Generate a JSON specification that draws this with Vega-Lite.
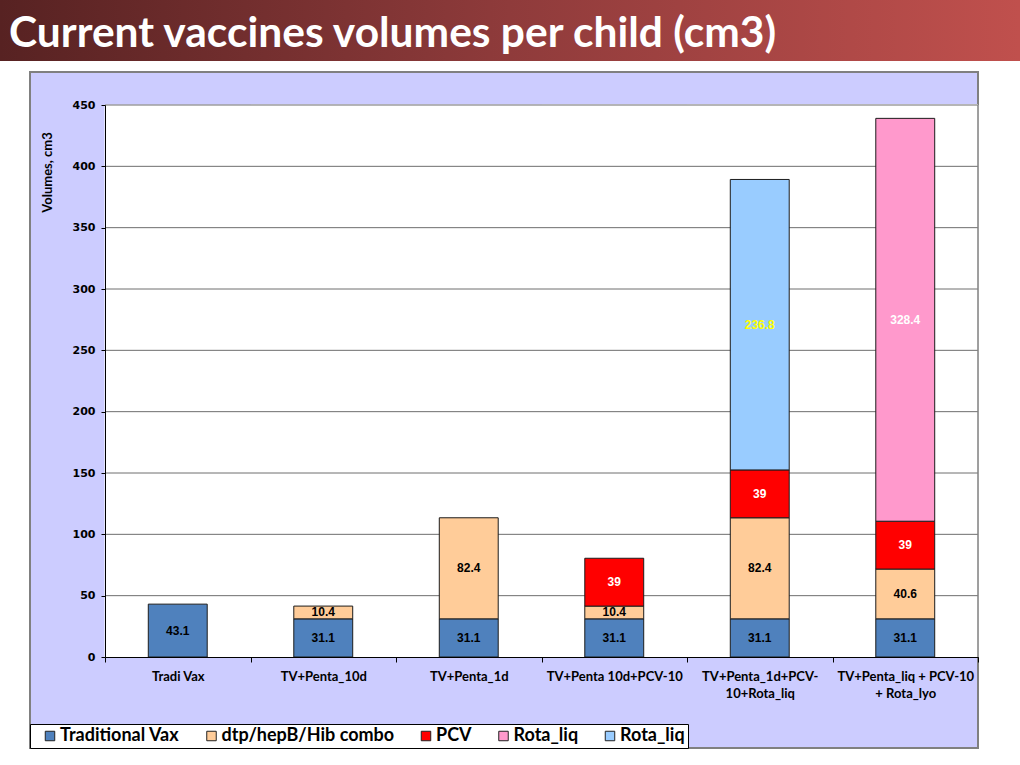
{
  "$schema": "https://vega.github.io/schema/vega-lite/v6.json",
  "width": 948,
  "height": 676,
  "padding": 0,
  "background": "white",
  "view": {"fill": "#ccccff", "stroke": "#808080", "strokeWidth": 2},
  "resolve": {"scale": {"x": "independent", "y": "independent"}},
  "layer": [
    {
      "data": {"values": [{"title": "Current vaccines volumes per child (cm3)"}]},
      "layer": [
        {
          "mark": {
            "type": "rect",
            "clip": false,
            "fill": {
              "gradient": "linear",
              "x1": 0, "y1": 0, "x2": 1, "y2": 0,
              "stops": [
                {"offset": 0, "color": "#572222"},
                {"offset": 0.5, "color": "#8f3b3b"},
                {"offset": 1, "color": "#c0504d"}
              ]
            }
          },
          "encoding": {
            "x": {"datum": 0, "type": "quantitative", "scale": {"domain": [0, 1], "range": [-30, 990], "nice": false, "zero": false}, "axis": null},
            "x2": {"datum": 1},
            "y": {"datum": 0, "type": "quantitative", "scale": {"domain": [0, 1], "range": [-11, -72], "nice": false, "zero": false}, "axis": null},
            "y2": {"datum": 1}
          }
        },
        {
          "mark": {"type": "text", "align": "left", "baseline": "middle", "font": "Lato", "fontWeight": "bold", "fontSize": 42.5, "color": "white", "dx": 9, "clip": false},
          "encoding": {
            "x": {"datum": 0, "type": "quantitative"},
            "y": {"datum": 0.44, "type": "quantitative"},
            "text": {"field": "title"}
          }
        }
      ]
    },
    {
      "data": {
        "values": [
          {"cat": "Tradi Vax", "series": "Traditional Vax", "value": 43.1, "ord": 1},
          {"cat": "TV+Penta_10d", "series": "Traditional Vax", "value": 31.1, "ord": 1},
          {"cat": "TV+Penta_10d", "series": "dtp/hepB/Hib combo", "value": 10.4, "ord": 2},
          {"cat": "TV+Penta_1d", "series": "Traditional Vax", "value": 31.1, "ord": 1},
          {"cat": "TV+Penta_1d", "series": "dtp/hepB/Hib combo", "value": 82.4, "ord": 2},
          {"cat": "TV+Penta 10d+PCV-10", "series": "Traditional Vax", "value": 31.1, "ord": 1},
          {"cat": "TV+Penta 10d+PCV-10", "series": "dtp/hepB/Hib combo", "value": 10.4, "ord": 2},
          {"cat": "TV+Penta 10d+PCV-10", "series": "PCV", "value": 39, "ord": 3},
          {"cat": "TV+Penta_1d+PCV-10+Rota_liq", "series": "Traditional Vax", "value": 31.1, "ord": 1},
          {"cat": "TV+Penta_1d+PCV-10+Rota_liq", "series": "dtp/hepB/Hib combo", "value": 82.4, "ord": 2},
          {"cat": "TV+Penta_1d+PCV-10+Rota_liq", "series": "PCV", "value": 39, "ord": 3},
          {"cat": "TV+Penta_1d+PCV-10+Rota_liq", "series": "Rota_liq", "value": 236.8, "ord": 4},
          {"cat": "TV+Penta_liq + PCV-10 + Rota_lyo", "series": "Traditional Vax", "value": 31.1, "ord": 1},
          {"cat": "TV+Penta_liq + PCV-10 + Rota_lyo", "series": "dtp/hepB/Hib combo", "value": 40.6, "ord": 2},
          {"cat": "TV+Penta_liq + PCV-10 + Rota_lyo", "series": "PCV", "value": 39, "ord": 3},
          {"cat": "TV+Penta_liq + PCV-10 + Rota_lyo", "series": "Rota_lyo", "value": 328.4, "ord": 4}
        ]
      },
      "layer": [
        {
          "mark": {"type": "rect", "fill": "white", "stroke": "white", "strokeWidth": 1},
          "encoding": {
            "x": {
              "field": "cat", "type": "nominal",
              "scale": {
                "domain": ["Tradi Vax", "TV+Penta_10d", "TV+Penta_1d", "TV+Penta 10d+PCV-10", "TV+Penta_1d+PCV-10+Rota_liq", "TV+Penta_liq + PCV-10 + Rota_lyo"],
                "range": [75, 948], "paddingInner": 0, "paddingOuter": 0
              },
              "axis": {
                "title": null, "orient": "bottom", "offset": -91, "zindex": 1,
                "tickBand": "extent", "tickSize": 5, "tickColor": "black", "domainColor": "black", "domainWidth": 1,
                "labelFont": "Lato", "labelFontWeight": "bold", "labelFontSize": 13, "labelColor": "black",
                "labelAngle": 0, "labelPadding": 8, "labelLineHeight": 17, "labelLimit": 300, "labelOverlap": false, "labelBound": false,
                "labelExpr": "datum.label == 'TV+Penta_1d+PCV-10+Rota_liq' ? ['TV+Penta_1d+PCV-', '10+Rota_liq'] : (datum.label == 'TV+Penta_liq + PCV-10 + Rota_lyo' ? ['TV+Penta_liq + PCV-10', '+ Rota_lyo'] : datum.label)"
              }
            },
            "y": {
              "datum": 0, "type": "quantitative",
              "scale": {"domain": [0, 450], "range": [585, 33], "nice": false, "zero": true},
              "axis": {
                "title": "Volumes, cm3", "orient": "left", "offset": -75, "zindex": 1, "grid": false,
                "values": [0, 50, 100, 150, 200, 250, 300, 350, 400, 450],
                "tickSize": 4, "tickColor": "black", "domainColor": "black",
                "labelFont": "DejaVu Sans", "labelFontWeight": "bold", "labelFontSize": 11, "labelColor": "black", "labelPadding": 6,
                "titleFont": "Lato", "titleFontWeight": "bold", "titleFontSize": 13, "titleColor": "black",
                "titleAngle": -90, "titleAlign": "center", "titleBaseline": "middle", "titleX": -58, "titleY": 100
              }
            },
            "y2": {"datum": 450}
          }
        },
        {
          "data": {"values": [{"g": 50}, {"g": 100}, {"g": 150}, {"g": 200}, {"g": 250}, {"g": 300}, {"g": 350}, {"g": 400}, {"g": 450}]},
          "mark": {"type": "rule", "color": "#6e6e6e", "strokeWidth": 1},
          "encoding": {
            "y": {"field": "g", "type": "quantitative"},
            "x": {"datum": "Tradi Vax", "type": "nominal", "bandPosition": 0},
            "x2": {"datum": "TV+Penta_liq + PCV-10 + Rota_lyo", "bandPosition": 1}
          }
        },
        {
          "data": {"values": [{"edge": "right"}]},
          "mark": {"type": "rule", "color": "#808080", "strokeWidth": 1.5},
          "encoding": {
            "x": {"datum": "TV+Penta_liq + PCV-10 + Rota_lyo", "type": "nominal", "bandPosition": 1},
            "y": {"datum": 0, "type": "quantitative"},
            "y2": {"datum": 450}
          }
        },
        {
          "mark": {"type": "bar", "width": {"band": 0.405}, "stroke": "#1c1c1c", "strokeWidth": 1},
          "encoding": {
            "x": {"field": "cat", "type": "nominal"},
            "y": {"field": "value", "type": "quantitative", "stack": "zero"},
            "order": {"field": "ord", "type": "quantitative"},
            "color": {
              "field": "series", "type": "nominal",
              "scale": {
                "domain": ["Traditional Vax", "dtp/hepB/Hib combo", "PCV", "Rota_lyo", "Rota_liq"],
                "range": ["#4f81bd", "#ffcc99", "#ff0000", "#ff99cc", "#99ccff"]
              },
              "legend": {
                "title": null, "orient": "bottom-left", "offset": 0, "direction": "horizontal",
                "fillColor": "white", "strokeColor": "black", "padding": 3,
                "labelFont": "Lato", "labelFontWeight": "bold", "labelFontSize": 18, "labelColor": "black", "labelLimit": 300,
                "symbolType": "square", "symbolSize": 90, "symbolStrokeColor": "#222222", "symbolStrokeWidth": 1,
                "columnPadding": 14.5, "labelOffset": 1, "symbolOffset": 8,
                "labelExpr": "datum.label == 'Rota_lyo' ? 'Rota_liq' : datum.label"
              }
            }
          }
        },
        {
          "mark": {"type": "text", "font": "Liberation Sans", "fontWeight": "bold", "fontSize": 12, "baseline": "middle", "align": "center"},
          "encoding": {
            "x": {"field": "cat", "type": "nominal"},
            "y": {"field": "value", "type": "quantitative", "stack": "zero", "bandPosition": 0.5},
            "detail": {"field": "series"},
            "order": {"field": "ord", "type": "quantitative"},
            "text": {"field": "value", "type": "quantitative"},
            "color": {
              "condition": [
                {"test": "datum.series == 'PCV' || datum.series == 'Rota_lyo'", "value": "white"},
                {"test": "datum.series == 'Rota_liq'", "value": "#ffff00"}
              ],
              "value": "black"
            }
          }
        }
      ]
    }
  ]
}
